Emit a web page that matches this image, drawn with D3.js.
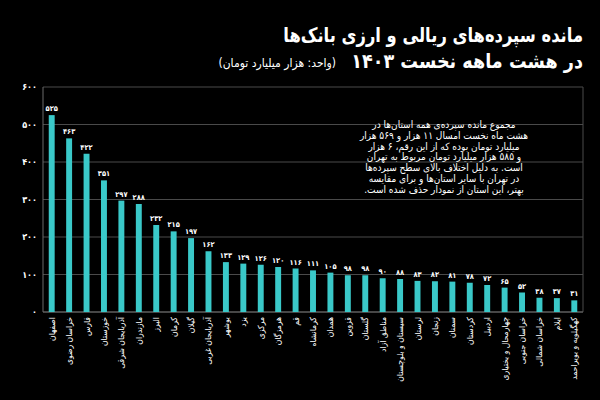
<!DOCTYPE html>
<html><head><meta charset="utf-8">
<script src="https://cdn.jsdelivr.net/npm/d3@7"></script>
<style>
html,body{margin:0;padding:0;background:#000;}
svg{display:block;}
text{font-family:"DejaVu Sans Condensed","DejaVu Sans",sans-serif;}
</style></head>
<body>
<svg id="chart" width="600" height="400"></svg>
<script>
const provinces = ["اصفهان","خراسان رضوی","فارس","خوزستان","آذربایجان شرقی","مازندران","البرز","کرمان","گیلان","آذربایجان غربی","بوشهر","یزد","مرکزی","هرمزگان","قم","کرمانشاه","همدان","قزوین","گلستان","مناطق آزاد","سیستان و بلوچستان","لرستان","زنجان","سمنان","کردستان","اردبیل","چهارمحال و بختیاری","خراسان جنوبی","خراسان شمالی","ایلام","کهگیلویه و بویراحمد"];
const deposits = [525,463,422,351,297,288,232,215,197,162,133,129,126,120,116,111,105,98,98,90,88,83,82,81,78,72,65,52,38,37,31];
const yTicks = [0,100,200,300,400,500,600];
const titleLines = ["مانده سپرده‌های ریالی و ارزی بانک‌ها","در هشت ماهه نخست ۱۴۰۳"];
const unitLabel = "(واحد: هزار میلیارد تومان)";
const noteLines = ["مجموع مانده سپرده‌ی همه استان‌ها در","هشت ماه نخست امسال ۱۱ هزار و ۵۶۹ هزار","میلیارد تومان بوده که از این رقم، ۶ هزار","و ۵۸۵ هزار میلیارد تومان مربوط به تهران","است. به دلیل اختلاف بالای سطح سپرده‌ها","در تهران با سایر استان‌ها و برای مقایسه","بهتر، این استان از نمودار حذف شده است."];

const fa = v => String(v).replace(/\d/g, c => "۰۱۲۳۴۵۶۷۸۹"[c]);
const svg = d3.select("#chart");
svg.append("rect").attr("width",600).attr("height",400).attr("fill","#000");

const pLeft = 43, pRight = 583, pTop = 87, pBottom = 312;
const x = d3.scaleBand().domain(provinces).range([pLeft, pRight]).paddingInner(0.66).paddingOuter(0.33);
const y = d3.scaleLinear().domain([0, 600]).range([pBottom, pTop]);

// grid
svg.append("g").selectAll("line").data(yTicks).join("line")
  .attr("x1", pLeft).attr("x2", pRight)
  .attr("y1", d => y(d)).attr("y2", d => y(d))
  .attr("stroke", "#4a4a4a").attr("stroke-width", 1);
// frame
svg.append("line").attr("x1", pLeft).attr("x2", pLeft).attr("y1", pTop).attr("y2", pBottom).attr("stroke","#6a6a6a");
svg.append("line").attr("x1", pRight).attr("x2", pRight).attr("y1", pTop).attr("y2", pBottom).attr("stroke","#4a4a4a");
svg.append("line").attr("x1", pLeft).attr("x2", pRight).attr("y1", pBottom).attr("y2", pBottom).attr("stroke","#6a6a6a");

// y axis labels
const yAxis = d3.axisLeft(y).tickValues(yTicks).tickFormat(fa).tickSize(0).tickPadding(6);
const yg = svg.append("g").attr("transform", `translate(${pLeft},0)`).call(yAxis);
yg.select(".domain").remove();
yg.selectAll("text").attr("fill","#fff").attr("font-size", 9).attr("font-weight","bold")
  .attr("font-family", '"DejaVu Sans Condensed","DejaVu Sans",sans-serif');

// bars
svg.append("g").selectAll("rect").data(deposits).join("rect")
  .attr("x", (d,i) => x(provinces[i]))
  .attr("width", x.bandwidth())
  .attr("y", d => y(d))
  .attr("height", d => y(0) - y(d))
  .attr("fill", "#3ac9c9");

// value labels
svg.append("g").selectAll("text").data(deposits).join("text")
  .attr("x", (d,i) => x(provinces[i]) + x.bandwidth()/2)
  .attr("y", d => y(d) - 4)
  .attr("text-anchor","middle")
  .attr("fill","#fff").attr("font-size", 7.5).attr("font-weight","bold")
  .text(fa);

// x labels
const xAxis = d3.axisBottom(x).tickSize(0).tickPadding(0);
const xg = svg.append("g").attr("transform", `translate(0,${pBottom})`).call(xAxis);
xg.select(".domain").remove();
xg.selectAll("text")
  .attr("fill","#fff").attr("font-size", 8.5)
  .attr("font-family", '"DejaVu Sans Condensed","DejaVu Sans",sans-serif')
  .attr("direction","rtl")
  .attr("text-anchor","start")
  .attr("dy", null)
  .attr("y", 0).attr("x", 0)
  .attr("transform", "translate(3,5) rotate(-90)");

// titles: fit horizontally to the reference width by a horizontal scale
function fitText(txt, xr, yb, size, weight, width) {
  const t = svg.append("text").attr("x", 0).attr("y", 0)
    .attr("direction","rtl").attr("text-anchor","start")
    .attr("fill","#fff").attr("font-size", size).attr("font-weight", weight).text(txt);
  const w = t.node().getComputedTextLength();
  const s = Math.min(1, width / w);
  t.attr("transform", `translate(${xr},${yb}) scale(${s},1)`);
  return t;
}
fitText(titleLines[0], 583, 42, 20, "bold", 300);
fitText(titleLines[1], 583, 68, 20, "bold", 232);
fitText(unitLabel, 336, 67, 12, "normal", 120);

// note
svg.append("g").selectAll("text").data(noteLines).join("text")
  .attr("x", 444).attr("y", (d,i) => 128 + i*10.8)
  .attr("direction","rtl").attr("text-anchor","middle")
  .attr("fill","#fff").attr("font-size", 10)
  .text(d => d);
</script>
</body></html>
